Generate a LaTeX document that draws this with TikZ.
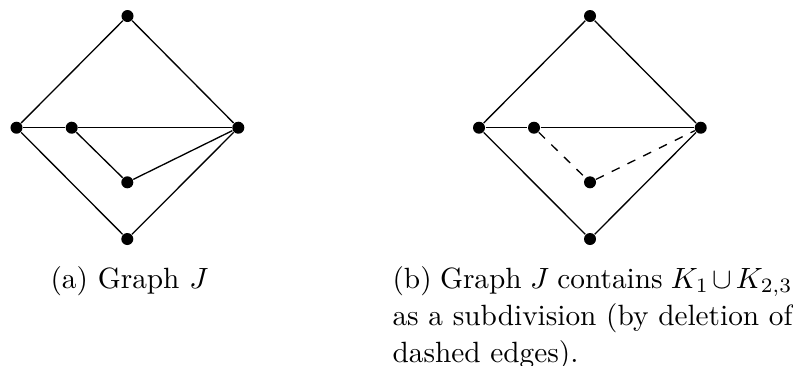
\documentclass[tikz,border=0pt]{standalone}
\usepackage{amssymb}
\newlength{\capw}
\setlength{\capw}{136.5pt}
\begin{document}
\begin{tikzpicture}[x=0.3413pt,y=-0.3413pt,
  dot/.style={circle,fill=black,inner sep=0pt,minimum size=4.1pt},
  edge/.style={line width=0.45pt},
  dedge/.style={line width=0.45pt,dashed},
  captext/.style={anchor=base west,inner sep=0pt,font=\normalsize}]
\useasboundingbox (0,0) rectangle (793,365);
% graph (a)
\node[dot] (at) at (127.5,16) {};
\node[dot] (al) at (16.5,127.7) {};
\node[dot] (ai) at (71.7,127.7) {};
\node[dot] (ar) at (238.3,127.7) {};
\node[dot] (am) at (127.3,182.3) {};
\node[dot] (ab) at (127.3,239) {};
\draw[edge] (al) -- (at) -- (ar);
\draw[edge] (al) -- (ai) -- (ar);
\draw[edge] (ai) -- (am) -- (ar);
\draw[edge] (al) -- (ab) -- (ar);
% graph (b)
\node[dot] (bt) at (590,16) {};
\node[dot] (bl) at (479,127.7) {};
\node[dot] (bi) at (534,127.7) {};
\node[dot] (br) at (700.7,127.7) {};
\node[dot] (bm) at (590,182.3) {};
\node[dot] (bb) at (590,239) {};
\draw[edge] (bl) -- (bt) -- (br);
\draw[edge] (bl) -- (bi) -- (br);
\draw[dedge] (bi) -- (bm) -- (br);
\draw[edge] (bl) -- (bb) -- (br);
% captions
\node[captext] (capa) at (50,288.5) {(a) Graph $J$};
\node[captext] (capb1) at (392,288.5) {\makebox[\capw][s]{(b) Graph $J$ contains $K_1\cup K_{2,3}$}};
\node[captext] (capb2) at (392,325.5) {\makebox[\capw][s]{as a subdivision (by deletion of}};
\node[captext] (capb3) at (392,362) {dashed edges).};
\end{tikzpicture}
\end{document}
